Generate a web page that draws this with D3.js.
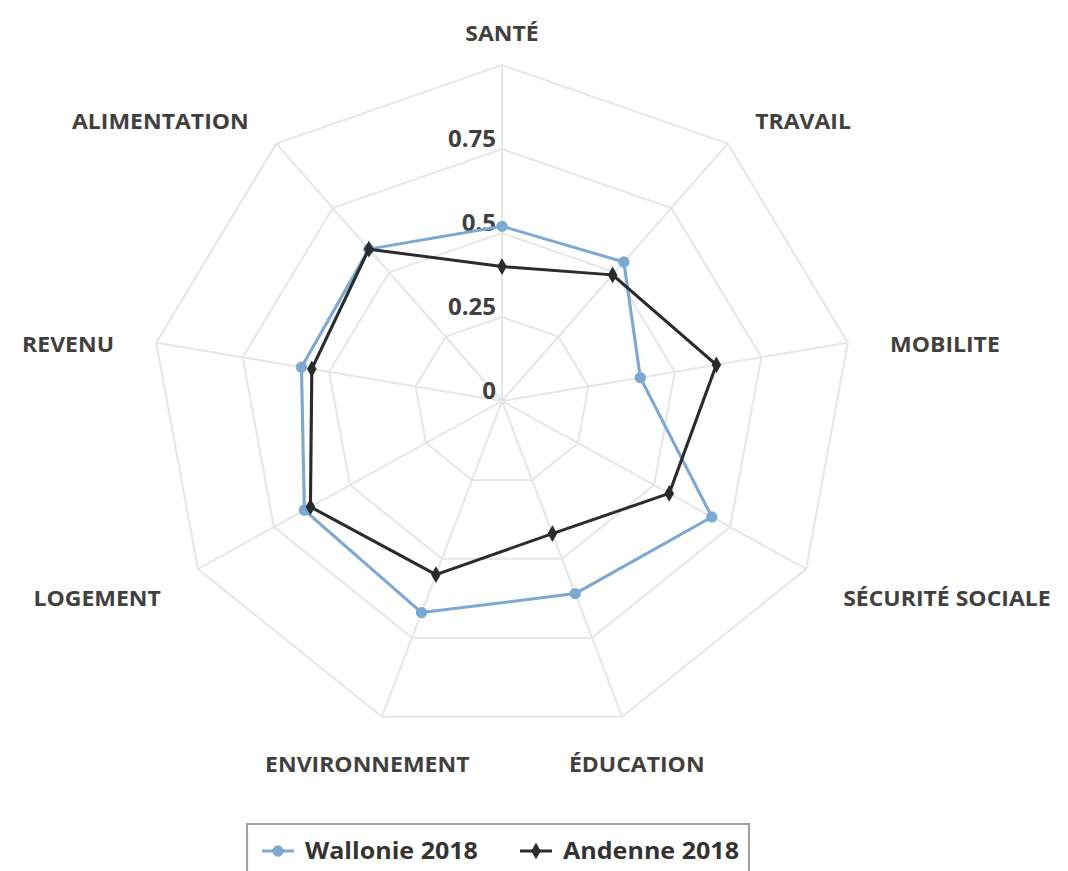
<!DOCTYPE html>
<html>
<head>
<meta charset="utf-8">
<script src="https://cdn.jsdelivr.net/npm/d3@7"></script>
<style>
  html, body { margin: 0; padding: 0; background: #ffffff; }
  svg { display: block; }
  text { font-family: "Open Sans", "DejaVu Sans", sans-serif; font-weight: 700; }
</style>
</head>
<body>
<svg id="chart" width="1068" height="871"></svg>
<script>
// ---- data ----
const categories = ["SANTÉ", "TRAVAIL", "MOBILITE", "SÉCURITÉ SOCIALE", "ÉDUCATION",
                    "ENVIRONNEMENT", "LOGEMENT", "REVENU", "ALIMENTATION"];
const wallonie2018 = [0.52, 0.54, 0.40, 0.69, 0.61, 0.67, 0.65, 0.58, 0.59];
const andenne2018  = [0.40, 0.49, 0.62, 0.55, 0.42, 0.55, 0.63, 0.55, 0.59];
const seriesNames = ["Wallonie 2018", "Andenne 2018"];
const gridLevels = [0.25, 0.5, 0.75, 1];
const tickLabels = [0, 0.25, 0.5, 0.75];

// ---- layout ----
const W = 1068, H = 871;
const sx = 1.045;              // horizontal stretch of the reference picture
const cx = 502 / sx, cy = 401; // centre (unscaled space)
const R = 336;
const gridColor = "#e6e6e6";
const textColor = "#404040";
const colors = ["#7ca8d2", "#2b2b2b"];

const svg = d3.select("#chart");
svg.append("rect").attr("width", W).attr("height", H).attr("fill", "#fff");
const root = svg.append("g").attr("transform", `scale(${sx},1)`);
const g = root.append("g").attr("transform", `translate(${cx},${cy})`);

const r = d3.scaleLinear().domain([0, 1]).range([0, R]);
const angle = d3.scaleLinear().domain([0, categories.length]).range([0, 2 * Math.PI]);
const pt = (v, i) => [r(v) * Math.sin(angle(i)), -r(v) * Math.cos(angle(i))];

// grid rings
const ringLine = d3.lineRadial()
  .angle((d, i) => angle(i))
  .radius(d => r(d))
  .curve(d3.curveLinearClosed);
g.append("g").selectAll("path")
  .data(gridLevels)
  .join("path")
  .attr("d", lv => ringLine(categories.map(() => lv)))
  .attr("fill", "none")
  .attr("stroke", gridColor)
  .attr("stroke-width", 2);

// spokes
g.append("g").selectAll("line")
  .data(categories)
  .join("line")
  .attr("x1", 0).attr("y1", 0)
  .attr("x2", (d, i) => pt(1, i)[0])
  .attr("y2", (d, i) => pt(1, i)[1])
  .attr("stroke", gridColor)
  .attr("stroke-width", 2);

// tick labels
g.append("g").selectAll("text")
  .data(tickLabels)
  .join("text")
  .attr("x", -6 / sx)
  .attr("y", d => -r(d) - 10)
  .attr("dy", "0.35em")
  .attr("text-anchor", "end")
  .attr("fill", textColor)
  .attr("font-size", 23)
  .text(d => d);

// category labels
const LR = 377;
g.append("g").selectAll("text")
  .data(categories)
  .join("text")
  .attr("x", (d, i) => LR * Math.sin(angle(i)))
  .attr("y", (d, i) => -LR * Math.cos(angle(i)) + 9)
  .attr("dy", "0.35em")
  .attr("text-anchor", (d, i) => {
    const deg = angle(i) * 180 / Math.PI;
    if (deg > 20.5 && deg < 159.5) return "start";
    if (deg > 200.5 && deg < 339.5) return "end";
    return "middle";
  })
  .attr("fill", textColor)
  .attr("font-size", 22)
  .text(d => d);

// series
const series = [wallonie2018, andenne2018];
const seriesLine = d3.lineRadial()
  .angle((d, i) => angle(i))
  .radius(d => r(d))
  .curve(d3.curveLinearClosed);

series.forEach((vals, si) => {
  const sg = g.append("g");
  sg.append("path")
    .attr("d", seriesLine(vals))
    .attr("fill", "none")
    .attr("stroke", colors[si])
    .attr("stroke-width", 3)
    .attr("stroke-linejoin", "round");
  const sym = si === 0 ? d3.symbolCircle : d3.symbolDiamond;
  const size = si === 0 ? 100 : 80;
  sg.selectAll("path.m")
    .data(vals)
    .join("path")
    .attr("class", "m")
    .attr("transform", (d, i) => `translate(${pt(d, i)[0]},${pt(d, i)[1]}) scale(${1 / sx},1)`)
    .attr("d", d3.symbol().type(sym).size(size))
    .attr("fill", colors[si]);
});

// legend
const lg = root.append("g");
lg.append("rect")
  .attr("x", 247 / sx).attr("y", 824)
  .attr("width", (749 - 247) / sx).attr("height", 70)
  .attr("fill", "#fff")
  .attr("stroke", "#a0a0a0")
  .attr("stroke-width", 2);
const legendItems = [
  { name: seriesNames[0], x0: 262, x1: 294, tx: 305 },
  { name: seriesNames[1], x0: 520, x1: 552, tx: 563 }
];
legendItems.forEach((it, si) => {
  const ly = 851;
  lg.append("line")
    .attr("x1", it.x0 / sx).attr("x2", it.x1 / sx)
    .attr("y1", ly).attr("y2", ly)
    .attr("stroke", colors[si]).attr("stroke-width", 3);
  const mx = (it.x0 + it.x1) / 2 / sx;
  lg.append("path")
    .attr("transform", `translate(${mx},${ly}) scale(${1 / sx},1)`)
    .attr("d", d3.symbol().type(si === 0 ? d3.symbolCircle : d3.symbolDiamond).size(si === 0 ? 100 : 80))
    .attr("fill", colors[si]);
  lg.append("text")
    .attr("x", it.tx / sx).attr("y", ly)
    .attr("dy", "0.35em")
    .attr("fill", "#333")
    .attr("font-size", 24)
    .text(it.name);
});
</script>
</body>
</html>
